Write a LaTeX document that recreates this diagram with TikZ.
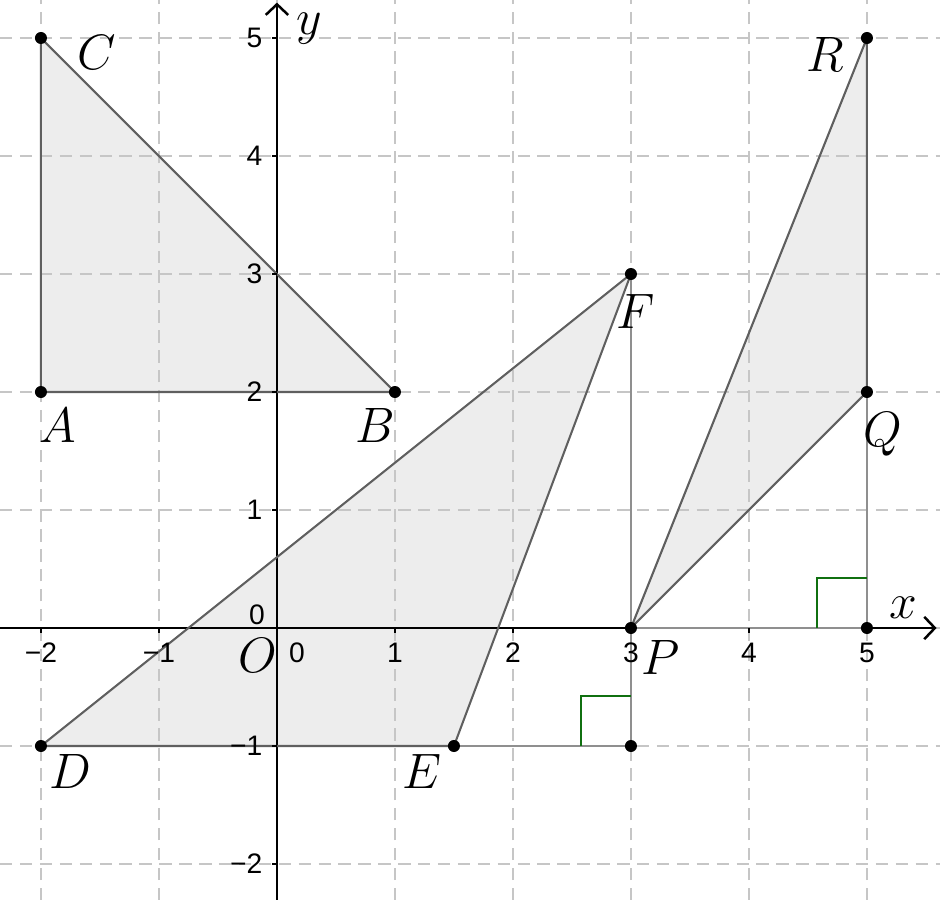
\documentclass[tikz,border=0pt]{standalone}
\usepackage{fontspec}
\usepackage{tikz}
\usetikzlibrary{arrows.meta}
\newfontfamily\skalafont{Liberation Sans}
\definecolor{kante}{HTML}{5F5F5F}
\definecolor{gitter}{HTML}{C6C6C6}
\definecolor{hgrau}{HTML}{8F8F8F}
\definecolor{wgruen}{HTML}{107010}
\tikzset{
  achse/.style={-{Straight Barb[length=0.9mm,width=1.9mm]},black,line width=0.6pt},
  raster/.style={gitter,dash pattern=on 3pt off 1.8pt,line width=0.45pt},
  flaeche/.style={fill=black,fill opacity=0.07},
  kanten/.style={kante,line width=0.5pt,line join=round},
  hilf/.style={hgrau,line width=0.5pt},
  winkel/.style={wgruen,line width=0.5pt},
  punkt/.style={circle,fill=black,inner sep=0pt,minimum size=2.9pt},
  skala/.style={font=\skalafont\fontsize{6.8}{8}\selectfont,inner sep=0.5pt},
  bez/.style={font=\fontsize{11.5}{13}\selectfont,inner sep=0pt},
}
\begin{document}
\begin{tikzpicture}
  \useasboundingbox (-2.347,-2.305) rectangle (5.619,5.322);
  \coordinate (A) at (-2,2);
  \coordinate (B) at (1,2);
  \coordinate (C) at (-2,5);
  \coordinate (D) at (-2,-1);
  \coordinate (E) at (1.5,-1);
  \coordinate (F) at (3,3);
  \coordinate (G) at (3,-1);
  \coordinate (P) at (3,0);
  \coordinate (Q) at (5,2);
  \coordinate (R) at (5,5);
  \coordinate (S) at (5,0);
  \fill[flaeche] (A) -- (B) -- (C) -- cycle;
  \fill[flaeche] (D) -- (E) -- (F) -- cycle;
  \fill[flaeche] (P) -- (Q) -- (R) -- cycle;
  \draw[raster,step=1] (-2.347,-2.305) grid (5.619,5.322);
  \draw[achse] (-2.347,0) -- (5.59,0);
  \draw[achse] (0,-2.305) -- (0,5.3);
  \draw[hilf] (F) -- (G) -- (E);
  \draw[hilf] (P) -- (S) -- (Q);
  \draw[winkel] (G) ++(-0.42,0) -- ++(0,0.42) -- ++(0.42,0);
  \draw[winkel] (S) ++(-0.42,0) -- ++(0,0.42) -- ++(0.42,0);
  \draw[kanten] (A) -- (B) -- (C) -- cycle;
  \draw[kanten] (D) -- (E) -- (F) -- cycle;
  \draw[kanten] (P) -- (Q) -- (R) -- cycle;
  \foreach \x/\t in {-2/−2,-1/−1,1/1,2/2,3/3,4/4,5/5} {
    \draw[line width=0.5pt] (\x,0) -- (\x,-0.045);
    \node[skala] (tx\x) at (\x,-0.21) {\t};
  }
  \foreach \y/\t in {-2/−2,-1/−1,1/1,2/2,3/3,4/4,5/5} {
    \draw[line width=0.5pt] (0,\y) -- (-0.045,\y);
    \node[skala,anchor=east] (ty\y) at (-0.1,\y) {\t};
  }
  \node[skala] (tx0) at (0.17,-0.21) {0};
  \node[skala] (ty0) at (-0.17,0.11) {0};
  \foreach \p in {A,B,C,D,E,F,G,P,Q,R,S}
    \node[punkt] (d\p) at (\p) {};
  \node[bez] (lA) at (-1.86,1.72) {$A$};
  \node[bez] (lB) at (0.83,1.72) {$B$};
  \node[bez] (lC) at (-1.525,4.88) {$C$};
  \node[bez] (lD) at (-1.75,-1.22) {$D$};
  \node[bez] (lE) at (1.23,-1.22) {$E$};
  \node[bez] (lF) at (3.04,2.68) {$F$};
  \node[bez] (lO) at (-0.16,-0.23) {$O$};
  \node[bez] (lP) at (3.25,-0.25) {$P$};
  \node[bez] (lQ) at (5.13,1.64) {$Q$};
  \node[bez] (lR) at (4.65,4.86) {$R$};
  \node[bez] (lx) at (5.31,0.17) {$x$};
  \node[bez] (ly) at (0.27,5.08) {$y$};
\end{tikzpicture}
\end{document}
